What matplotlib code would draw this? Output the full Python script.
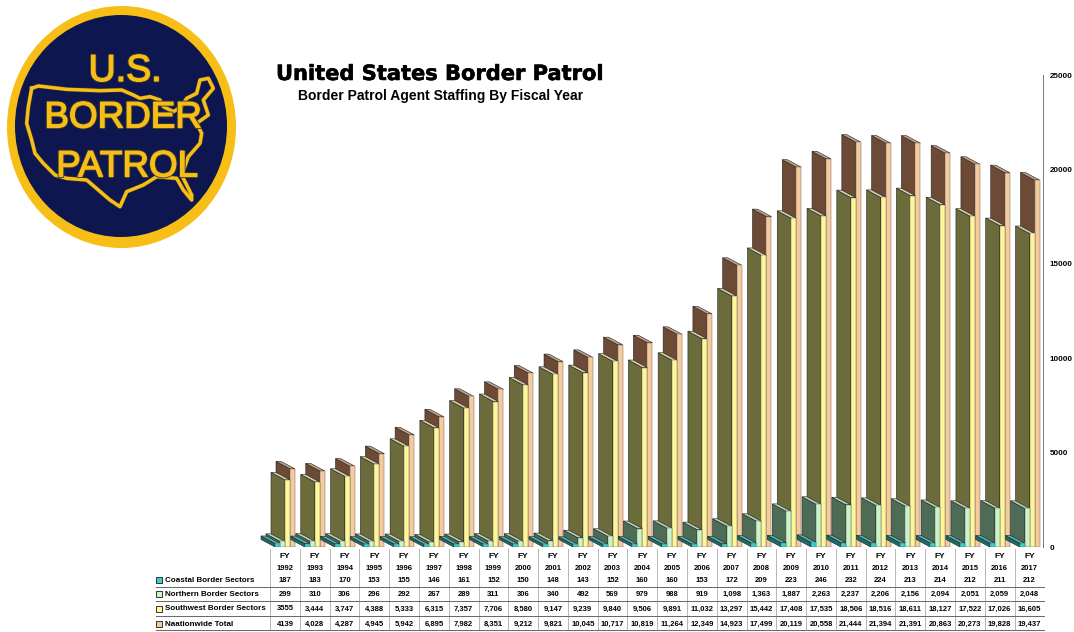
# Border Patrol agent staffing chart with fake 3D bars and a data table below
import matplotlib
matplotlib.use('Agg')
import matplotlib.pyplot as plt
import matplotlib.patheffects as pe
from matplotlib.patches import Ellipse
from matplotlib.transforms import blended_transform_factory

plt.rcParams['font.family'] = ['Liberation Sans', 'DejaVu Sans']

years = list(range(1992, 2018))
coastal = [187, 183, 170, 153, 155, 146, 161, 152, 150, 148, 143, 152, 160,
           160, 153, 172, 209, 223, 246, 232, 224, 213, 214, 212, 211, 212]
northern = [299, 310, 306, 296, 292, 267, 289, 311, 306, 340, 492, 569, 979,
            988, 919, 1098, 1363, 1887, 2263, 2237, 2206, 2156, 2094, 2051, 2059, 2048]
southwest = [3555, 3444, 3747, 4388, 5333, 6315, 7357, 7706, 8580, 9147, 9239, 9840, 9506,
             9891, 11032, 13297, 15442, 17408, 17535, 18506, 18516, 18611, 18127, 17522, 17026, 16605]
nationwide = [4139, 4028, 4287, 4945, 5942, 6895, 7982, 8351, 9212, 9821, 10045, 10717, 10819,
              11264, 12349, 14923, 17499, 20119, 20558, 21444, 21394, 21391, 20863, 20273, 19828, 19437]
row_names = ['Coastal Border Sectors', 'Northern Border Sectors',
             'Southwest Border Sectors', 'Naationwide Total']
y_ticks = [0, 5000, 10000, 15000, 20000, 25000]

# front, side, top colours for each series
colours = [('#35D3CB', '#1D6A6B', '#57B5AE'),
           ('#C8F4C8', '#4E6B56', '#B4D2B8'),
           ('#FFF69A', '#6B6B3B', '#D2D1A8'),
           ('#F6CB9C', '#6C4A36', '#BFA085')]
series = [coastal, northern, southwest, nationwide]

W, H = 1074, 632
fig = plt.figure(figsize=(W / 100, H / 100), dpi=100)

# overlay in pixel coordinates for logo, titles and table frame
over = fig.add_axes([0, 0, 1, 1], zorder=0)
over.set_xlim(0, W)
over.set_ylim(H, 0)
over.axis('off')

# main axes: x is year index, y is agents
px_per_year = 29.78
x0_px = 285
left_px, right_px, top_px, bottom_px = 250, 1043, 75, 547
ax = fig.add_axes([left_px / W, 1 - bottom_px / H, (right_px - left_px) / W, (bottom_px - top_px) / H], zorder=1)
ax.patch.set_alpha(0)
ax.set_xlim((left_px - x0_px) / px_per_year, (right_px - x0_px) / px_per_year)
ax.set_ylim(0, 25000)
for name, s in ax.spines.items():
    s.set_visible(name == 'right')
ax.spines['right'].set_color('#777777')
ax.spines['right'].set_linewidth(0.7)
ax.set_xticks([])
ax.yaxis.tick_right()
ax.set_yticks(y_ticks)
ax.set_yticklabels([str(t) for t in y_ticks], fontsize=5.8, fontweight='bold')
ax.tick_params(axis='y', length=0, pad=5)

bar_w = 5 / px_per_year
dx = 14 / px_per_year
dy = 7.5 * 25000 / (bottom_px - top_px)
edge = '#222222'

for i in range(len(years)):
    # nationwide is at the back, coastal goes on top
    for k in [3, 2, 1, 0]:
        v = series[k][i]
        front, side, top = colours[k]
        xl = i + (k - 2) * bar_w
        xr = xl + bar_w
        ax.fill([xl, xl - dx, xl - dx, xl], [0, dy, v + dy, v], facecolor=side, edgecolor=edge, linewidth=0.4)
        ax.fill([xl, xl - dx, xr - dx, xr], [v, v + dy, v + dy, v], facecolor=top, edgecolor=edge, linewidth=0.4)
        ax.bar(xl, v, width=bar_w, align='edge', color=front, edgecolor='#555555', linewidth=0.3)

# table
tr = blended_transform_factory(ax.transData, over.transData)
row_y = [580, 594, 609, 624]
for i, yr in enumerate(years):
    over.text(i, 556, 'FY', transform=tr, ha='center', va='center', fontsize=6, fontweight='bold')
    over.text(i, 568, str(yr), transform=tr, ha='center', va='center', fontsize=5.5, fontweight='bold')
    for k, y in enumerate(row_y):
        v = series[k][i]
        label = str(v) if i == 0 else f'{v:,}'
        over.text(i, y, label, transform=tr, ha='center', va='center', fontsize=5.5, fontweight='bold')
    over.plot([i - 0.5, i - 0.5], [549, 630], transform=tr, color='#aaaaaa', lw=0.6)

for y in [587, 601, 616, 630]:
    over.plot([156, 1044], [y, y], color='#666666', lw=0.7)

for k, y in enumerate(row_y):
    over.plot(159, y, marker='s', ms=4.5, mfc=colours[k][0], mec='#333333', mew=0.7)
    over.text(165, y, row_names[k], ha='left', va='center', fontsize=5.8, fontweight='bold')

# titles
over.text(276, 74, 'United States Border Patrol', ha='left', va='center', fontsize=15.1, fontweight='bold',
          family='DejaVu Sans', path_effects=[pe.withStroke(linewidth=0.4, foreground='black')])
over.text(298, 96, 'Border Patrol Agent Staffing By Fiscal Year', ha='left', va='center', fontsize=10, fontweight='bold')

# logo
gold = '#F6BE16'
navy = '#0E1650'
over.add_patch(Ellipse((121.5, 127), 229, 242, facecolor=gold, edgecolor='none'))
over.add_patch(Ellipse((121, 126), 212, 222, facecolor=navy, edgecolor='none'))
outline = [(95, 265), (115, 258), (200, 268), (300, 272), (365, 270), (400, 285), (420, 295), (450, 290),
           (480, 300), (490, 320), (520, 335), (545, 320), (560, 295), (590, 280), (600, 240), (625, 235),
           (640, 265), (610, 300), (625, 345), (590, 370), (605, 400), (600, 430), (565, 470), (545, 525),
           (575, 585), (575, 600), (550, 570), (530, 535), (470, 530), (430, 555), (380, 575), (360, 620),
           (330, 600), (295, 570), (260, 540), (200, 535), (165, 525), (130, 490), (105, 460), (95, 420),
           (80, 370), (85, 320), (95, 265)]
over.plot([p[0] / 3 for p in outline], [p[1] / 3 for p in outline], color=gold, lw=2.5,
          path_effects=[pe.withStroke(linewidth=3.3, foreground='#3A3A30')])
logo_fx = [pe.withStroke(linewidth=2.2, foreground='#3A3A30'), pe.withStroke(linewidth=0.9, foreground=gold)]
over.text(125, 71, 'U.S.', ha='center', va='center', fontsize=27, color=gold, path_effects=logo_fx)
over.text(123, 118, 'BORDER', ha='center', va='center', fontsize=26.5, color=gold, path_effects=logo_fx)
over.text(127, 167, 'PATROL', ha='center', va='center', fontsize=26.5, color=gold, path_effects=logo_fx)

fig.savefig('out.png', dpi=100, facecolor='white')
